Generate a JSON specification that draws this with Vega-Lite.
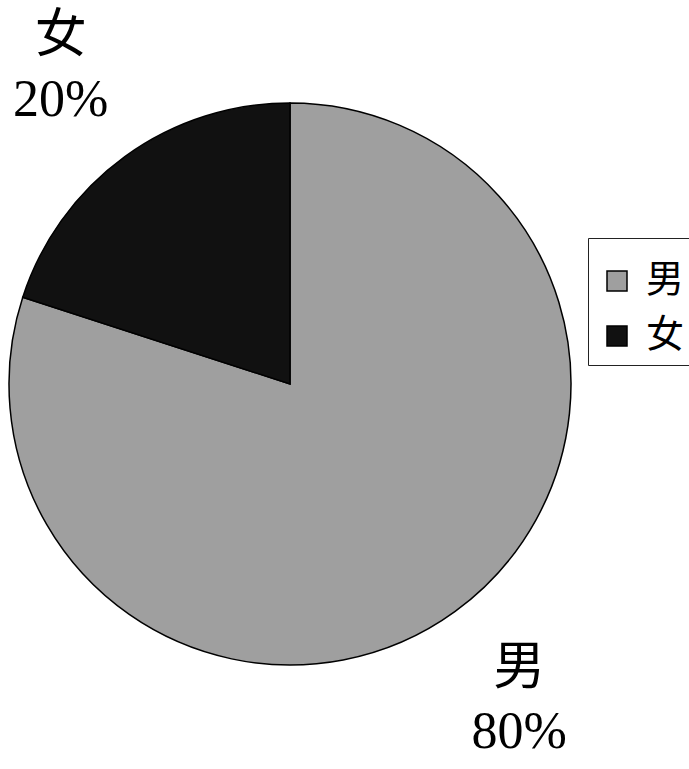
{
  "$schema": "https://vega.github.io/schema/vega-lite/v6.json",
  "width": 580,
  "height": 768,
  "padding": 0,
  "background": "white",
  "data": {"values": [
    {"sex": "男", "value": 80, "label": "男\n80%", "ord": 1},
    {"sex": "女", "value": 20, "label": "女\n20%", "ord": 2}
  ]},
  "encoding": {
    "theta": {"field": "value", "type": "quantitative", "stack": true},
    "order": {"field": "ord", "type": "quantitative"}
  },
  "layer": [
    {
      "mark": {"type": "arc", "outerRadius": 281, "stroke": "black", "strokeWidth": 1.5},
      "encoding": {
        "color": {
          "field": "sex", "type": "nominal",
          "scale": {"domain": ["男", "女"], "range": ["#9f9f9f", "#111111"]},
          "legend": {
            "title": " ",
            "titleFontSize": 10,
            "titlePadding": 4,
            "orient": "none",
            "legendX": 588,
            "legendY": 238,
            "padding": 10,
            "strokeColor": "#222",
            "symbolType": "square",
            "symbolSize": 400,
            "symbolStrokeColor": "black",
            "symbolStrokeWidth": 1.5,
            "labelFont": "Liberation Serif, Noto Sans CJK TC",
            "labelFontSize": 38,
            "labelColor": "black",
            "labelOffset": 10,
            "rowPadding": 17
          }
        }
      }
    },
    {
      "mark": {"type": "text", "radius": 390, "font": "Liberation Serif, Noto Sans CJK TC", "fontSize": 52, "lineBreak": "\n", "lineHeight": 64, "dy": -32, "color": "black", "baseline": "middle"},
      "encoding": {
        "text": {"field": "label"}
      }
    }
  ]
}
